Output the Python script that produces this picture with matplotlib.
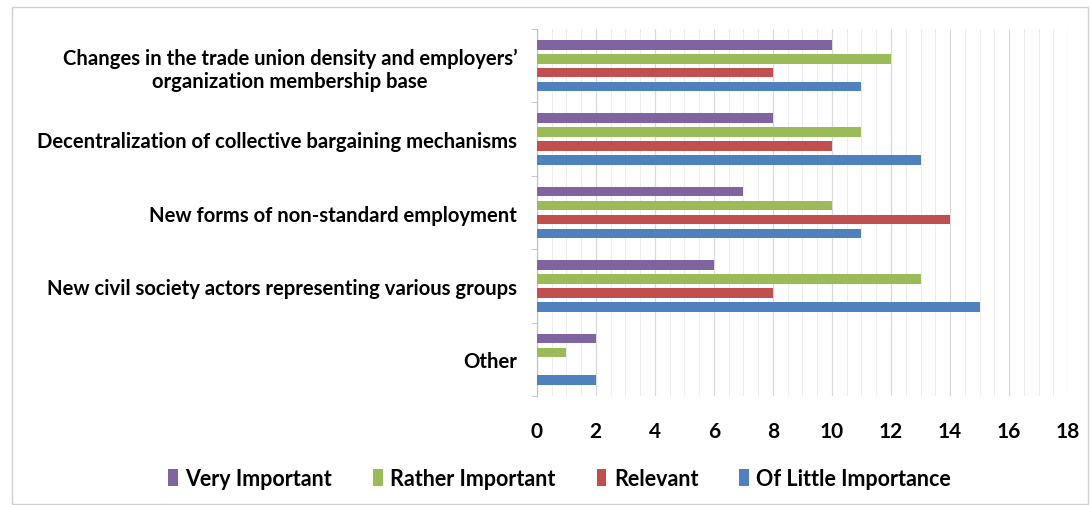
import numpy as np
import matplotlib.pyplot as plt
from matplotlib.patches import Rectangle

categories = [
    "Changes in the trade union density and employers\u2019\norganization membership base",
    "Decentralization of collective bargaining mechanisms",
    "New forms of non-standard employment",
    "New civil society actors representing various groups",
    "Other",
]
series = ["Very Important", "Rather Important", "Relevant", "Of Little Importance"]
very_important = [10, 8, 7, 6, 2]
rather_important = [12, 11, 10, 13, 1]
relevant = [8, 10, 14, 8, 0]
little_importance = [11, 13, 11, 15, 2]
colors = ["#8064A2", "#9BBB59", "#C0504D", "#4F81BD"]

plt.rcParams["font.family"] = ["Lato", "DejaVu Sans"]

fig = plt.figure(figsize=(10.91, 5.06), dpi=100)
ax = fig.add_axes([0.492, 0.2154, 0.487, 0.7253])

y = np.arange(len(categories))
step, h = 0.19, 0.13
values = [very_important, rather_important, relevant, little_importance]
for k, (name, vals, col) in enumerate(zip(series, values, colors)):
    off = (k - 1.5) * step
    ax.barh(y + off, vals, height=h, color=col, label=name, zorder=3)

ax.set_xlim(0, 18)
ax.set_ylim(len(categories) - 0.5, -0.5)
ax.set_xticks(np.arange(0, 19, 2))
ax.set_xticks(np.arange(0, 18.01, 0.5), minor=True)
ax.grid(axis="x", which="major", color="#d9d9d9", lw=0.9, zorder=0)
ax.grid(axis="x", which="minor", color="#ececec", lw=0.7, zorder=0)
ax.set_yticks(y)
ax.set_yticklabels(categories, fontsize=14.6, fontweight="bold",
                   ha="right", multialignment="center")
ax.set_yticks(np.arange(-0.5, len(categories)), minor=True)
ax.tick_params(axis="y", which="major", length=0, pad=14)
ax.tick_params(axis="y", which="minor", length=4, color="#bfbfbf")
ax.tick_params(axis="x", which="both", length=0, pad=18, labelsize=15)
for lab in ax.get_xticklabels():
    lab.set_fontweight("bold")
for s in ["top", "right", "bottom"]:
    ax.spines[s].set_visible(False)
ax.spines["left"].set_color("#bfbfbf")

fig.legend(loc="center", bbox_to_anchor=(0.513, 0.052), ncol=4, frameon=False,
           prop=dict(size=15.5, weight="bold"), handlelength=0.45, handleheight=0.8,
           handletextpad=0.35, columnspacing=1.9)

fig.patches.append(Rectangle((0.011, 0.002), 0.986, 0.982, transform=fig.transFigure,
                             fill=False, ec="#d0d0d0", lw=1))

fig.savefig("out.png", dpi=100)
